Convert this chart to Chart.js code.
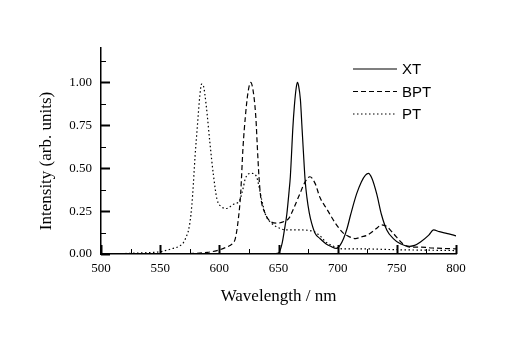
<!DOCTYPE html>
<html>
<head>
<meta charset="utf-8">
<title>Emission spectra</title>
<script src="https://cdn.jsdelivr.net/npm/chart.js@4.4.0/dist/chart.umd.min.js"></script>
<style>
    body { margin: 0; background: #fff; }
</style>
</head>
<body>
<canvas id="spectra" width="511" height="344"></canvas>
<script>
// values (wavelength in nm, intensity in arb. units)
const xtWl  = [500, 600, 645, 650, 653, 655, 657, 659, 660, 661, 662, 663.5, 665, 666, 667, 668.5, 670, 671, 672.5, 674, 676, 678, 681, 685, 690, 694, 699, 702, 705, 708, 711, 716, 720, 723.5, 726, 729, 733, 737, 741.5, 747, 753, 761, 765, 770, 777, 781, 786, 792, 798, 800];
const xtInt = [0, 0, 0, 0.005, 0.06, 0.14, 0.23, 0.37, 0.45, 0.58, 0.72, 0.87, 0.97, 1.0, 0.98, 0.9, 0.72, 0.6, 0.43, 0.33, 0.24, 0.18, 0.12, 0.09, 0.06, 0.045, 0.032, 0.05, 0.09, 0.15, 0.23, 0.35, 0.42, 0.46, 0.47, 0.44, 0.35, 0.23, 0.14, 0.09, 0.06, 0.045, 0.05, 0.07, 0.11, 0.14, 0.13, 0.12, 0.11, 0.105];

const bptWl  = [500, 560, 590, 598, 606, 611, 613.5, 616, 618, 620, 622, 624, 626.5, 629, 631, 632, 633.5, 635, 638.5, 643, 649, 655, 659, 662.5, 668, 672.5, 676.5, 681, 685, 691, 698, 705, 710, 715, 720, 725, 733, 737, 741.5, 747, 755, 761, 770, 780, 800];
const bptInt = [0, 0, 0.01, 0.02, 0.04, 0.06, 0.09, 0.2, 0.35, 0.62, 0.8, 0.93, 1.0, 0.93, 0.78, 0.64, 0.45, 0.33, 0.24, 0.19, 0.18, 0.19, 0.21, 0.26, 0.35, 0.42, 0.45, 0.41, 0.33, 0.26, 0.18, 0.12, 0.1, 0.09, 0.1, 0.11, 0.15, 0.17, 0.16, 0.12, 0.06, 0.04, 0.04, 0.035, 0.03];

const ptWl  = [500, 520, 540, 550, 561, 566, 570, 572, 574, 576, 577.5, 579.5, 581.5, 583.5, 585, 586.5, 589, 592, 595, 598, 602, 606, 612, 617, 620, 622, 627, 631.5, 633, 636, 639, 644, 651, 657, 668, 680, 686, 690, 695, 700, 705, 720, 750, 800];
const ptInt = [0, 0.003, 0.008, 0.013, 0.033, 0.045, 0.07, 0.1, 0.14, 0.23, 0.35, 0.57, 0.75, 0.92, 0.99, 0.98, 0.86, 0.65, 0.46, 0.32, 0.275, 0.265, 0.29, 0.31, 0.38, 0.44, 0.47, 0.45, 0.41, 0.31, 0.23, 0.18, 0.15, 0.14, 0.14, 0.13, 0.1, 0.07, 0.05, 0.035, 0.03, 0.03, 0.025, 0.02];

const seriesNames = ['XT', 'BPT', 'PT'];

function toPoints(wl, val) {
    return wl.map((w, i) => ({ x: w, y: val[i] }));
}

const serif = 'Liberation Serif, Times New Roman, serif';

// ticks point into the plot, legend sits inside the plot, y title drawn by hand
const decorations = {
    id: 'decorations',
    afterDraw(chart) {
        const ctx = chart.ctx;
        const area = chart.chartArea;
        const xs = chart.scales.x;
        const ys = chart.scales.y;
        ctx.save();
        ctx.strokeStyle = '#000';

        for (let v = 0; v <= 1.2001; v += 0.125) {
            const major = Math.abs(v * 4 - Math.round(v * 4)) < 1e-6;
            const py = Math.round(ys.getPixelForValue(v)) + 0.5;
            ctx.lineWidth = major ? 2 : 1;
            ctx.beginPath();
            ctx.moveTo(area.left, py);
            ctx.lineTo(area.left + (major ? 9 : 5), py);
            ctx.stroke();
        }
        for (let v = 500; v <= 800; v += 25) {
            const major = v % 50 === 0;
            const px = Math.round(xs.getPixelForValue(v)) + 0.5;
            ctx.lineWidth = major ? 2 : 1;
            ctx.beginPath();
            ctx.moveTo(px, area.bottom);
            ctx.lineTo(px, area.bottom - (major ? 9 : 5));
            ctx.stroke();
        }

        // legend
        ctx.font = '15px Liberation Sans, Arial, sans-serif';
        ctx.textBaseline = 'middle';
        ctx.fillStyle = '#000';
        chart.data.datasets.forEach((ds, i) => {
            const y = 69 + i * 22.5;
            ctx.lineWidth = 1.2;
            ctx.setLineDash(ds.borderDash || []);
            ctx.beginPath();
            ctx.moveTo(353, y);
            ctx.lineTo(397, y);
            ctx.stroke();
            ctx.setLineDash([]);
            ctx.fillText(ds.label, 402, y + 1);
        });

        // y axis title
        ctx.font = '17px ' + serif;
        ctx.textAlign = 'center';
        ctx.translate(47, 161);
        ctx.rotate(-Math.PI / 2);
        ctx.fillText('Intensity (arb. units)', 0, 0);
        ctx.restore();
    }
};

new Chart(document.getElementById('spectra'), {
    type: 'line',
    data: {
        datasets: [
            { label: seriesNames[0], data: toPoints(xtWl, xtInt), borderDash: [] },
            { label: seriesNames[1], data: toPoints(bptWl, bptInt), borderDash: [5, 3] },
            { label: seriesNames[2], data: toPoints(ptWl, ptInt), borderDash: [1.5, 2.5] }
        ]
    },
    options: {
        responsive: false,
        animation: false,
        layout: { padding: { top: 48, right: 55, left: 0, bottom: 0 } },
        elements: {
            point: { radius: 0 },
            line: { borderColor: '#000', borderWidth: 1.2, cubicInterpolationMode: 'monotone', fill: false }
        },
        plugins: {
            legend: { display: false },
            tooltip: { enabled: false }
        },
        scales: {
            x: {
                type: 'linear',
                min: 500,
                max: 800,
                grid: { display: false, drawTicks: false },
                border: { display: true, color: '#000', width: 1.5 },
                ticks: { stepSize: 50, color: '#000', padding: 7, font: { family: serif, size: 13 } },
                title: { display: true, text: 'Wavelength / nm', color: '#000', padding: { bottom: 37 }, font: { family: serif, size: 17 } },
                afterFit(scale) { scale.height = 90; }
            },
            y: {
                min: 0,
                max: 1.2,
                grid: { display: false, drawTicks: false },
                border: { display: true, color: '#000', width: 1.5 },
                ticks: {
                    stepSize: 0.25,
                    includeBounds: false,
                    color: '#000',
                    padding: 9,
                    font: { family: serif, size: 13 },
                    callback: v => v.toFixed(2)
                },
                afterFit(scale) { scale.width = 101; }
            }
        }
    },
    plugins: [decorations]
});
</script>
</body>
</html>
